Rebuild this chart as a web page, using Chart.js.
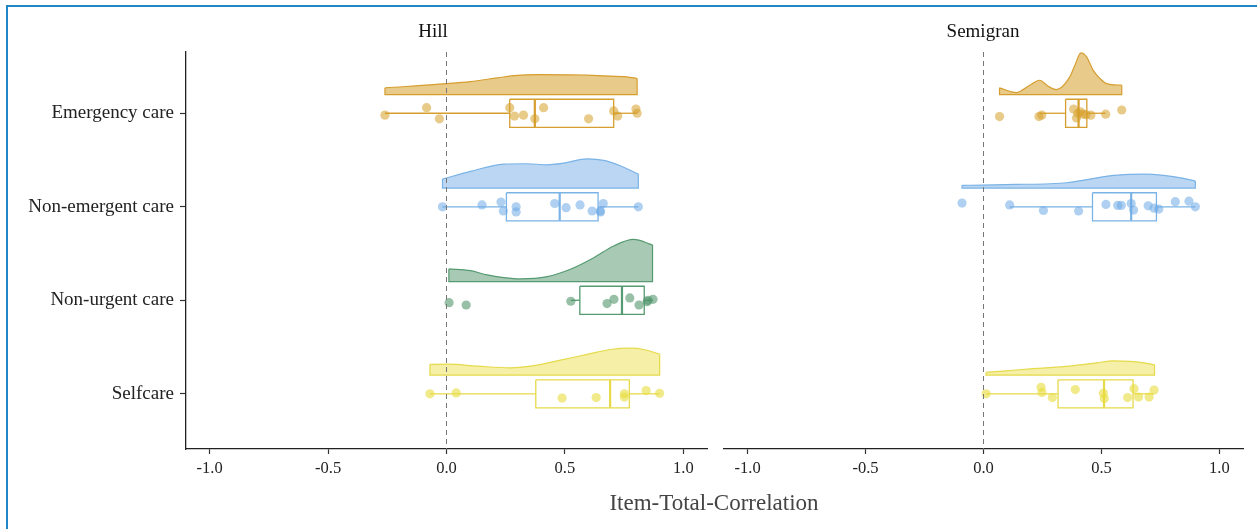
<!DOCTYPE html>
<html>
<head>
<meta charset="utf-8">
<script src="https://cdn.jsdelivr.net/npm/chart.js@4.4.1/dist/chart.umd.min.js"></script>
<style>
body { margin: 0; width: 1257px; height: 529px; background: #fff; overflow: hidden; position: relative; font-family: 'Liberation Serif', 'Times New Roman', serif; }
#frame { position: absolute; left: 6px; top: 5px; width: 1270px; height: 540px; border-left: 2px solid #1f87c7; border-top: 2px solid #1f87c7; }
#leftCanvas { position: absolute; left: 0; top: 0; }
#rightCanvas { position: absolute; left: 714px; top: 0; }
.strip { position: absolute; top: 21px; font-size: 19px; line-height: 19px; color: #111; transform: translateX(-50%); white-space: nowrap; }
#xTitle { position: absolute; left: 714px; top: 491px; font-size: 23px; line-height: 23px; color: #444; transform: translateX(-50%); white-space: nowrap; }
</style>
</head>
<body>
<div id="frame"></div>
<canvas id="leftCanvas" width="714" height="529"></canvas>
<canvas id="rightCanvas" width="543" height="529"></canvas>
<div class="strip" style="left:433px">Hill</div>
<div class="strip" style="left:983px">Semigran</div>
<div id="xTitle">Item-Total-Correlation</div>
<script>
Chart.defaults.font.family = "'Liberation Serif', 'Times New Roman', serif";
Chart.defaults.color = '#222';

var categories = ["Emergency care", "Non-emergent care", "Non-urgent care", "Selfcare"];
var xTickValues = [-1, -0.5, 0, 0.5, 1];

var lineColors = ['#D69E2E', '#7AB3E6', '#559A70', '#E6DA4A'];
var fillColors = ['rgba(222,180,90,0.7)', 'rgba(110,170,230,0.48)', 'rgba(82,150,108,0.5)', 'rgba(236,224,80,0.5)'];
var pointColors = ['rgba(214,158,40,0.55)', 'rgba(110,170,230,0.55)', 'rgba(82,150,108,0.6)', 'rgba(232,220,60,0.6)'];

// ---- Hill: item-total correlations (x) and vertical jitter (in category units)
var hillEmergencyX = [-0.26, -0.084, -0.03, 0.267, 0.287, 0.325, 0.373, 0.41, 0.60, 0.706, 0.723, 0.80, 0.805];
var hillEmergencyJit = [0.02, -0.06, 0.06, -0.06, 0.03, 0.02, 0.06, -0.06, 0.06, -0.025, 0.03, -0.045, 0.0];
var hillNonEmergentX = [-0.017, 0.15, 0.23, 0.24, 0.294, 0.294, 0.457, 0.505, 0.564, 0.615, 0.65, 0.65, 0.662, 0.81];
var hillNonEmergentJit = [0.0, -0.02, -0.05, 0.045, 0.0, 0.055, -0.035, 0.01, -0.02, 0.045, 0.045, 0.055, -0.035, 0.0];
var hillNonUrgentX = [0.011, 0.083, 0.525, 0.678, 0.707, 0.774, 0.813, 0.847, 0.851, 0.872];
var hillNonUrgentJit = [0.025, 0.05, 0.01, 0.035, -0.01, -0.025, 0.05, 0.015, 0.0, -0.01];
var hillSelfcareX = [-0.07, 0.041, 0.488, 0.632, 0.751, 0.751, 0.843, 0.90];
var hillSelfcareJit = [0.0, -0.01, 0.045, 0.04, 0.0, 0.035, -0.035, -0.005];

// Hill density slabs (x, height in category units)
var hillEmergencyDensX = [-0.26, 0.003, 0.101, 0.214, 0.298, 0.383, 0.523, 0.664, 0.762, 0.805];
var hillEmergencyDensH = [0.071, 0.117, 0.139, 0.178, 0.206, 0.213, 0.21, 0.2, 0.189, 0.171];
var hillNonEmergentDensX = [-0.017, 0.101, 0.242, 0.34, 0.425, 0.495, 0.594, 0.664, 0.734, 0.81];
var hillNonEmergentDensH = [0.096, 0.178, 0.256, 0.26, 0.249, 0.267, 0.313, 0.296, 0.238, 0.149];
var hillNonUrgentDensX = [0.01, 0.101, 0.172, 0.242, 0.312, 0.425, 0.523, 0.622, 0.706, 0.79, 0.87];
var hillNonUrgentDensH = [0.136, 0.117, 0.071, 0.043, 0.029, 0.053, 0.132, 0.256, 0.381, 0.451, 0.392];
var hillSelfcareDensX = [-0.07, 0.003, 0.13, 0.27, 0.383, 0.481, 0.594, 0.692, 0.776, 0.833, 0.90];
var hillSelfcareDensH = [0.114, 0.117, 0.096, 0.078, 0.107, 0.16, 0.221, 0.274, 0.288, 0.274, 0.224];

// Hill box plots
var hillQ1 = [0.267, 0.253, 0.563, 0.377];
var hillMedian = [0.373, 0.478, 0.741, 0.691];
var hillQ3 = [0.706, 0.64, 0.835, 0.772];
var hillWhiskerLow = [-0.26, -0.017, 0.525, -0.07];
var hillWhiskerHigh = [0.805, 0.81, 0.872, 0.90];

// ---- Semigran (no non-urgent care items)
var semEmergencyX = [0.068, 0.235, 0.247, 0.382, 0.394, 0.40, 0.411, 0.423, 0.434, 0.455, 0.518, 0.586];
var semEmergencyJit = [0.035, 0.035, 0.02, -0.045, 0.05, 0.0, -0.015, 0.01, 0.015, 0.02, 0.01, -0.035];
var semNonEmergentX = [-0.091, 0.111, 0.254, 0.403, 0.519, 0.569, 0.584, 0.626, 0.636, 0.698, 0.723, 0.743, 0.813, 0.871, 0.898];
var semNonEmergentJit = [-0.04, -0.02, 0.04, 0.045, -0.025, -0.015, -0.015, -0.035, 0.035, -0.01, 0.015, 0.025, -0.055, -0.06, 0.0];
var semSelfcareX = [0.011, 0.244, 0.248, 0.292, 0.389, 0.508, 0.512, 0.611, 0.638, 0.657, 0.702, 0.723];
var semSelfcareJit = [0.0, -0.07, -0.015, 0.04, -0.045, -0.005, 0.05, 0.04, -0.055, 0.035, 0.035, -0.04];

var semEmergencyDensX = [0.068, 0.139, 0.196, 0.238, 0.274, 0.309, 0.366, 0.387, 0.413, 0.437, 0.465, 0.494, 0.522, 0.586];
var semEmergencyDensH = [0.072, 0.021, 0.1, 0.153, 0.089, 0.053, 0.189, 0.31, 0.445, 0.402, 0.259, 0.171, 0.117, 0.1];
var semNonEmergentDensX = [-0.091, -0.003, 0.139, 0.281, 0.352, 0.451, 0.536, 0.621, 0.678, 0.763, 0.848, 0.898];
var semNonEmergentDensH = [0.029, 0.032, 0.039, 0.046, 0.057, 0.096, 0.131, 0.146, 0.149, 0.136, 0.104, 0.075];
var semSelfcareDensX = [0.011, 0.082, 0.224, 0.366, 0.48, 0.55, 0.621, 0.678, 0.725];
var semSelfcareDensH = [0.029, 0.043, 0.072, 0.096, 0.131, 0.153, 0.146, 0.131, 0.11];

var semQ1 = [0.348, 0.462, null, 0.316];
var semMedian = [0.403, 0.626, null, 0.511];
var semQ3 = [0.438, 0.733, null, 0.634];
var semWhiskerLow = [0.238, 0.111, null, 0.011];
var semWhiskerHigh = [0.518, 0.898, null, 0.723];

var yMin = 0.345, yMax = 4.59; // category 1 at top, 4 at bottom
var boxHalf = 0.15;  // half box height
var slabGap = 0.2;   // density baseline above category centre

function lineSet(points, color, width, extra)
{
    var ds = { type: 'line', data: points, borderColor: color, borderWidth: width, pointRadius: 0, fill: false, tension: 0 };
    for (var k in extra) ds[k] = extra[k];
    return ds;
}

function createPanel(canvasId, pointsX, pointsJit, densX, densH, q1, median, q3, wLow, wHigh, showY, padLeft, padRight)
{
    var layers = []; // in drawing order, bottom first
    var dots = [];

    for (var i = 0; i < categories.length; i++)
    {
        if (!pointsX[i]) continue;
        var c = i + 1;
        var base = c - slabGap;
        var col = lineColors[i];

        // half-eye density
        var top = densX[i].map(function(x, j) { return { x: x, y: base - densH[i][j] }; });
        var n = top.length - 1;
        layers.push(lineSet(top, col, 1.2, { fill: { value: base }, backgroundColor: fillColors[i], cubicInterpolationMode: 'monotone' }));
        layers.push(lineSet([top[0], { x: densX[i][0], y: base }, { x: densX[i][n], y: base }, top[n]], col, 1.2));

        // box and whiskers
        layers.push(lineSet([
            { x: q1[i], y: c - boxHalf }, { x: q3[i], y: c - boxHalf },
            { x: q3[i], y: c + boxHalf }, { x: q1[i], y: c + boxHalf },
            { x: q1[i], y: c - boxHalf }], col, 1.3));
        layers.push(lineSet([{ x: median[i], y: c - boxHalf }, { x: median[i], y: c + boxHalf }], col, 2.2));
        layers.push(lineSet([{ x: wLow[i], y: c }, { x: q1[i], y: c }], col, 1.3));
        layers.push(lineSet([{ x: q3[i], y: c }, { x: wHigh[i], y: c }], col, 1.3));

        // jittered raw points
        dots.push({
            type: 'line', showLine: false,
            data: pointsX[i].map(function(x, j) { return { x: x, y: c + pointsJit[i][j] }; }),
            pointRadius: 4.6, pointBackgroundColor: pointColors[i], pointBorderWidth: 0, pointBorderColor: 'rgba(0,0,0,0)'
        });
    }
    layers = layers.concat(dots);

    // reference line at zero
    layers.push(lineSet([{ x: 0, y: yMin }, { x: 0, y: yMax }], '#777', 1, { borderDash: [5, 4] }));

    return new Chart(document.getElementById(canvasId).getContext('2d'), {
        type: 'line',
        data: { datasets: layers.reverse() }, // first dataset is drawn last
        options: {
            responsive: false,
            animation: false,
            events: [],
            layout: { padding: { top: 52, bottom: 50, left: padLeft, right: padRight } },
            plugins: { legend: { display: false }, tooltip: { enabled: false }, title: { display: false } },
            scales: {
                x: {
                    type: 'linear', min: -1.1, max: 1.1,
                    afterBuildTicks: function(s) { s.ticks = xTickValues.map(function(v) { return { value: v }; }); },
                    afterFit: function(s) { s.height = 30; },
                    ticks: { callback: function(v) { return v.toFixed(1); }, font: { size: 16.5 }, color: '#222', padding: 5, maxRotation: 0, autoSkip: false },
                    grid: { drawOnChartArea: false, drawTicks: true, tickLength: 5, tickColor: '#333', tickWidth: 1.2 },
                    border: { display: true, color: '#222', width: 1.3 }
                },
                y: {
                    type: 'linear', reverse: true, min: yMin, max: yMax, display: showY,
                    afterBuildTicks: function(s) { s.ticks = categories.map(function(name, i) { return { value: i + 1 }; }); },
                    afterFit: function(s) { s.width = showY ? 186 : 0; },
                    ticks: { callback: function(v, i) { return categories[i]; }, font: { size: 19 }, color: '#222', padding: 6, autoSkip: false },
                    grid: { drawOnChartArea: false, drawTicks: true, tickLength: 6, tickColor: '#333', tickWidth: 1.2 },
                    border: { display: true, color: '#222', width: 1.3 }
                }
            }
        }
    });
}

createPanel('leftCanvas',
    [hillEmergencyX, hillNonEmergentX, hillNonUrgentX, hillSelfcareX],
    [hillEmergencyJit, hillNonEmergentJit, hillNonUrgentJit, hillSelfcareJit],
    [hillEmergencyDensX, hillNonEmergentDensX, hillNonUrgentDensX, hillSelfcareDensX],
    [hillEmergencyDensH, hillNonEmergentDensH, hillNonUrgentDensH, hillSelfcareDensH],
    hillQ1, hillMedian, hillQ3, hillWhiskerLow, hillWhiskerHigh, true, 0, 7);

createPanel('rightCanvas',
    [semEmergencyX, semNonEmergentX, null, semSelfcareX],
    [semEmergencyJit, semNonEmergentJit, null, semSelfcareJit],
    [semEmergencyDensX, semNonEmergentDensX, null, semSelfcareDensX],
    [semEmergencyDensH, semNonEmergentDensH, null, semSelfcareDensH],
    semQ1, semMedian, semQ3, semWhiskerLow, semWhiskerHigh, false, 10, 14);
</script>
</body>
</html>
